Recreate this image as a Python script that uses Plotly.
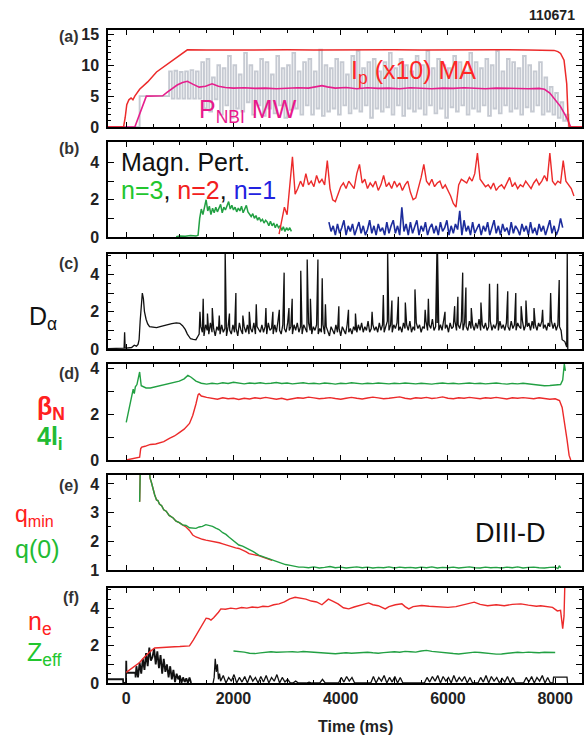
import plotly.graph_objects as go
from plotly.subplots import make_subplots

FONT = "Liberation Sans, Arial, sans-serif"
RED = "#ec2a2a"
GREEN = "#22a043"
BLUE = "#1c2c9c"
MAGENTA = "#e61e8c"
GRAY = "#c6cad2"
BLACK = "#111111"

# ---------------- (a) Ip (x10) MA, P_NBI ----------------
ip_t = [-340, -50, -20, 10, 50, 90, 125, 160, 250, 400, 565, 750, 935, 1040, 1140,
        1500, 2000, 2500, 3000, 3500, 4000, 4500, 5000, 5500, 6000, 6500, 7000, 7500,
        7980, 8050, 8100, 8165, 8215, 8240, 8260, 8500]
ip_v = [0, 0, 1.5, 3.6, 4.4, 4.7, 4.4, 5.0, 6.1, 7.3, 8.9, 10.1, 11.3, 12.0, 12.5,
        12.45, 12.5, 12.45, 12.5, 12.45, 12.5, 12.45, 12.5, 12.45, 12.5, 12.45, 12.5, 12.45,
        12.4, 12.2, 11.9, 10.8, 7.0, 1.7, 0, 0]

pnbi_t = [-340, 160, 375, 680, 760, 850, 950, 1050, 1140, 1250, 1360, 1480, 1600, 1720,
          1850, 2000, 2200, 2400, 2600, 2800, 3000, 3200, 3400, 3550, 3650, 3750, 3900,
          4100, 4300, 4500, 4700, 4900, 5100, 5300, 5500, 5700, 5900, 6100, 6300, 6500,
          6700, 6900, 7100, 7300, 7500, 7700, 7800, 7900, 7980, 8100, 8170, 8220, 8290, 8500]
pnbi_v = [0, 0, 5.0, 5.05, 5.6, 6.2, 6.8, 7.2, 7.4, 6.9, 6.45, 6.6, 7.0, 6.6,
          6.4, 6.3, 6.35, 6.25, 6.3, 6.2, 6.3, 6.35, 6.3, 6.5, 6.7, 6.5, 6.3,
          6.4, 6.2, 6.35, 6.25, 6.3, 6.2, 6.35, 6.3, 6.2, 6.3, 6.25, 6.35, 6.3,
          6.2, 6.3, 6.25, 6.3, 6.2, 6.25, 6.1, 5.5, 4.6, 3.3, 2.2, 1.4, 0, 0]

nbi_early_t = [-340, 240, 250, 780]
nbi_early_v = [0, 0, 5.0, 5.0]
nbi_mod_t0 = 800
nbi_mod_dt = 50
nbi_mod_v = [
    9.0, 4.6, 9.1, 4.6, 8.9, 4.6, 9.0, 4.6, 9.2, 4.6,
    9.0, 4.6, 10.5, 3.0, 11.0, 2.5, 8.0, 4.5, 10.0, 2.0,
    9.5, 3.5, 11.5, 1.5, 10.0, 3.0, 8.5, 2.5, 12.0, 4.0,
    10.0, 2.0, 9.0, 3.5, 11.0, 1.8, 10.5, 3.0, 8.5, 2.2,
    11.5, 3.5, 9.5, 1.5, 10.0, 2.8, 12.0, 3.0, 9.0, 2.0,
    10.5, 3.5, 11.0, 2.0, 9.0, 3.0, 12.5, 1.8, 10.0, 2.5,
    9.5, 3.0, 11.0, 2.0, 10.5, 3.5, 8.5, 2.2, 11.5, 3.0,
    12.3, 2.5, 9.5, 3.5, 10.5, 1.5, 11.0, 3.0, 9.0, 2.5,
    10.5, 3.2, 12.0, 2.0, 9.5, 3.5, 11.0, 1.8, 10.0, 3.0,
    9.0, 2.5, 11.5, 3.0, 10.0, 2.0, 12.3, 3.5, 9.5, 2.2,
    11.0, 3.0, 10.0, 1.5, 9.5, 3.2, 11.5, 2.5, 10.5, 3.5,
    9.0, 2.0, 12.0, 3.0, 10.5, 2.5, 9.5, 3.5, 11.0, 1.8,
    10.0, 3.0, 12.3, 2.2, 9.0, 3.5, 11.0, 2.5, 10.5, 3.0,
    9.5, 2.0, 11.5, 3.2, 10.0, 2.5, 9.0, 3.5, 10.5, 2.0,
    8.0, 2.5, 6.5, 2.0, 5.5, 1.5, 4.0, 1.0, 2.0, 0.0,
]

# ---------------- (b) magnetic perturbations ----------------
n3_early_t = [930, 1000, 1100, 1200, 1300, 1340]
n3_early_v = [0.02, 0.05, 0.04, 0.08, 0.05, 0.1]
n3_t0 = 1370
n3_dt = 30
n3_v = [1.0, 1.5, 1.2, 1.7, 2.0, 1.4, 1.65, 1.2, 1.55, 1.3,
        1.6, 1.35, 1.55, 1.75, 1.3, 1.6, 1.45, 1.7, 1.9, 1.5,
        1.7, 1.45, 1.6, 1.35, 1.55, 1.4, 1.65, 1.3, 1.5, 1.7,
        1.35, 1.25, 1.1, 1.25, 1.0, 1.15, 0.9, 1.05, 0.85, 0.95,
        0.75, 0.9, 0.8, 0.6, 0.85, 0.6, 0.75, 0.5, 0.7, 0.5,
        0.6, 0.35, 0.55, 0.3, 0.5, 0.35, 0.5, 0.3]

n2_t0 = 2850
n2_dt = 50
n2_v = [0.15, 0.9, 1.6, 1.2, 2.9, 4.3, 2.3, 2.6, 3.0, 2.7,
        3.4, 2.8, 3.0, 2.7, 3.3, 2.9, 3.1, 2.8, 4.1, 2.6,
        2.0, 1.9, 2.3, 2.7, 2.9, 2.6, 3.0, 2.8, 2.6, 3.4,
        3.9, 2.9, 3.1, 2.6, 2.9, 2.7, 3.0, 2.5, 2.8, 3.3,
        2.7, 2.9, 2.6, 3.0, 2.7, 2.9, 2.5, 2.8, 3.0, 2.4,
        2.0, 2.1, 2.6, 3.2, 3.9, 3.0, 2.8, 3.1, 2.7, 2.9,
        3.0, 2.6, 2.8, 2.5, 2.2, 1.8, 1.6, 2.8, 3.1, 3.0,
        2.9, 3.2, 3.0, 3.4, 4.5, 3.1, 2.9, 2.7, 2.8, 2.6,
        2.9, 2.5, 2.7, 2.8, 2.6, 2.9, 3.2, 2.7, 2.9, 2.6,
        2.8, 2.7, 3.0, 2.8, 2.6, 2.9, 3.1, 2.8, 3.0, 3.3,
        3.0, 4.5, 3.0, 2.8, 3.0, 2.9, 4.1, 3.0, 2.8, 2.6,
        2.2]

n1_t0 = 3780
n1_dt = 40
n1_v = [0.8, 0.3, 0.6, 0.1, 0.7, 0.2, 0.5, 0.9, 0.1, 0.6,
        0.3, 0.7, 0.1, 0.5, 0.8, 0.2, 0.6, 0.1, 0.4, 0.9,
        0.2, 0.6, 0.1, 0.7, 0.3, 0.5, 0.1, 0.8, 0.2, 0.6,
        0.9, 0.2, 0.6, 0.1, 1.6, 0.3, 0.7, 0.1, 0.8, 0.2,
        0.5, 0.9, 0.1, 0.6, 0.3, 0.8, 0.1, 0.5, 0.7, 0.2,
        0.6, 0.1, 0.8, 0.3, 0.5, 0.9, 0.1, 0.6, 0.2, 0.7,
        0.4, 1.4, 0.1, 0.9, 0.3, 0.6, 0.1, 0.8, 0.2, 0.5,
        0.7, 0.1, 0.6, 0.3, 0.8, 0.1, 0.5, 0.9, 0.2, 0.6,
        0.1, 0.7, 0.3, 0.5, 0.1, 0.8, 0.2, 0.6, 0.4, 0.1,
        0.7, 0.3, 0.6, 0.1, 0.8, 0.2, 0.5, 0.1, 0.7, 0.3,
        0.6, 0.1, 0.5, 0.9, 0.2, 0.6, 0.1, 0.4, 1.0, 0.5]

# ---------------- (c) D-alpha ----------------
da_early_t = [-340, -60, -40, -30, -20, 0, 100, 150, 190, 220, 240, 260, 280, 300,
              320, 340, 370, 400, 435, 500, 565, 650, 750, 850, 935, 1000, 1050,
              1100, 1140, 1200, 1250, 1300, 1340]
da_early_v = [0.02, 0.02, 0.05, 0.9, 0.05, 0.05, 0.08, 0.2, 0.15, 0.25, 0.5, 1.5, 2.6, 3.0,
              2.7, 2.0, 1.6, 1.35, 1.2, 1.18, 1.15, 1.22, 1.3, 1.36, 1.4, 1.38, 1.25,
              1.05, 0.8, 0.55, 0.52, 0.5, 0.7]
da_base_t0 = 1360
da_base_dt = 30
da_base_v = [0.8, 1.2, 0.9, 0.7, 1.3, 1.0, 0.8, 1.4, 0.9, 1.1,
             0.7, 1.2, 1.0, 0.8, 1.3, 0.9, 1.1, 0.7, 1.2, 1.0,
             0.8, 1.3, 0.9, 1.1, 0.7, 1.4, 1.0, 0.8, 1.2, 0.9,
             1.3, 0.8, 1.1, 0.9, 1.4, 0.8, 1.2, 1.0, 0.9, 1.3,
             0.9, 1.2, 0.8, 1.4, 1.0, 1.1, 0.8, 1.3, 0.9, 1.5,
             1.0, 0.8, 1.3, 1.1, 0.9, 1.4, 1.0, 1.2, 0.8, 1.3,
             1.0, 1.4, 0.9, 1.2, 0.8, 1.3, 1.1, 0.9, 1.4, 1.0,
             0.8, 1.2, 1.0, 1.3, 0.8, 1.1, 0.9, 1.3, 0.8, 1.2,
             0.9, 0.7, 1.2, 1.0, 0.8, 1.3, 0.9, 1.1, 0.7, 1.2,
             1.0, 0.8, 1.3, 0.9, 1.1, 0.8, 1.2, 1.0, 0.9, 1.3,
             1.0, 1.4, 0.9, 1.2, 1.0, 1.5, 0.9, 1.1, 1.3, 1.0,
             1.2, 0.9, 1.4, 1.0, 1.3, 0.9, 1.2, 1.5, 1.0, 1.3,
             0.9, 1.3, 1.1, 1.4, 1.0, 1.2, 0.9, 1.4, 1.1, 1.3,
             1.0, 1.5, 0.9, 1.2, 1.0, 1.4, 1.1, 1.3, 0.9, 1.2,
             1.1, 1.5, 1.0, 1.3, 1.1, 1.6, 1.0, 1.2, 1.4, 1.0,
             1.3, 1.0, 1.5, 1.1, 1.3, 0.9, 1.4, 1.1, 1.2, 1.5,
             1.0, 1.3, 1.1, 1.5, 1.0, 1.4, 1.2, 1.0, 1.5, 1.1,
             1.3, 1.0, 1.4, 1.1, 1.6, 1.0, 1.3, 1.1, 1.4, 1.0,
             1.2, 1.5, 1.0, 1.3, 1.1, 1.4, 1.0, 1.5, 1.1, 1.3,
             1.0, 1.4, 1.2, 1.0, 1.5, 1.1, 1.3, 1.0, 1.4, 1.2,
             1.1, 1.5, 1.0, 1.3, 1.2, 1.4, 1.0, 1.5, 1.1, 1.3,
             1.0, 1.4, 1.2, 1.5, 1.1, 1.3, 1.0, 1.4, 1.2, 1.5,
             1.1, 1.4, 1.0, 1.3, 1.2]
da_spike_t = [1375, 1435, 1515, 1605, 1735, 1845, 1925, 2045, 2175, 2295, 2425, 2605,
              2735, 2855, 2945, 3035, 3095, 3255, 3375, 3435, 3575, 3655, 3715, 3965,
              4145, 4275, 4585, 4795, 4875, 4955, 5075, 5205, 5385, 5575, 5635, 5795,
              5805, 5945, 6125, 6185, 6275, 6335, 6435, 6615, 6775, 6925, 7115, 7265,
              7365, 7455, 7605, 7765, 7915, 8075]
da_spike_v = [2.0, 2.7, 1.9, 2.2, 1.8, 5.3, 1.9, 3.0, 1.8, 2.0, 2.4, 2.2,
              2.0, 2.1, 4.1, 2.2, 2.7, 4.2, 4.8, 2.7, 4.8, 3.8, 2.4, 2.3,
              2.1, 1.9, 2.0, 2.9, 5.3, 2.6, 2.8, 2.5, 3.2, 2.1, 2.7, 5.3,
              5.3, 2.0, 2.3, 2.8, 4.1, 3.3, 2.2, 2.5, 3.5, 3.5, 3.1, 3.0,
              2.3, 2.6, 2.2, 2.1, 3.0, 3.7]
da_tail_t = [8110, 8130, 8180, 8215, 8225, 8235]
da_tail_v = [1.0, 0.5, 0.4, 0.1, 5.3, 0.0]

# ---------------- (d) beta_N, 4 l_i ----------------
bn_early_t = [0, 100, 200, 250, 270, 290, 350, 450, 550, 620, 700, 805, 900, 990,
              1080, 1180, 1240, 1300, 1340, 1360]
bn_early_v = [0.0, 0.05, 0.1, 0.12, 0.5, 0.56, 0.6, 0.68, 0.7, 0.75, 0.8, 0.95, 1.05, 1.2,
              1.35, 1.6, 1.95, 2.45, 2.85, 2.9]
bn_t0 = 1400
bn_dt = 100
bn_v = [2.8, 2.74, 2.7, 2.66, 2.72, 2.68, 2.7, 2.65, 2.7, 2.67,
        2.72, 2.69, 2.74, 2.7, 2.66, 2.7, 2.64, 2.68, 2.72, 2.7,
        2.75, 2.72, 2.68, 2.7, 2.73, 2.69, 2.66, 2.7, 2.74, 2.7,
        2.67, 2.71, 2.75, 2.72, 2.68, 2.7, 2.73, 2.76, 2.7, 2.67,
        2.72, 2.7, 2.74, 2.69, 2.72, 2.76, 2.7, 2.68, 2.72, 2.7,
        2.74, 2.71, 2.68, 2.72, 2.7, 2.74, 2.7, 2.67, 2.72, 2.7,
        2.73, 2.7, 2.68, 2.72, 2.7, 2.66]
bn_tail_t = [8000, 8080, 8130, 8180, 8220, 8260, 8290]
bn_tail_v = [2.68, 2.6, 2.3, 1.6, 0.9, 0.2, 0.0]

li_early_t = [0, 60, 110, 130, 150, 170, 200, 250, 280, 320, 370, 450, 500, 560, 620,
              700, 805, 900, 990, 1080, 1150, 1210, 1300, 1400]
li_early_v = [1.65, 2.3, 2.9, 3.1, 2.9, 3.2, 3.3, 3.85, 3.25, 3.2, 3.15, 3.15, 3.18, 3.22, 3.25,
              3.3, 3.35, 3.4, 3.45, 3.55, 3.7, 3.62, 3.45, 3.36]
li_t0 = 1500
li_dt = 100
li_v = [3.32, 3.36, 3.33, 3.38, 3.35, 3.4, 3.36, 3.33, 3.37, 3.35,
        3.38, 3.34, 3.36, 3.39, 3.35, 3.37, 3.33, 3.36, 3.38, 3.34,
        3.36, 3.33, 3.37, 3.35, 3.32, 3.36, 3.34, 3.38, 3.35, 3.33,
        3.36, 3.34, 3.37, 3.35, 3.33, 3.36, 3.34, 3.37, 3.35, 3.33,
        3.36, 3.34, 3.32, 3.35, 3.37, 3.34, 3.36, 3.33, 3.35, 3.37,
        3.34, 3.36, 3.33, 3.35, 3.37, 3.34, 3.32, 3.35, 3.33, 3.36,
        3.33, 3.3, 3.27, 3.25, 3.26, 3.28, 3.3]
li_tail_t = [8140, 8170, 8190]
li_tail_v = [3.5, 4.2, 3.9]

# ---------------- (e) q_min, q(0) ----------------
q0_t = [250, 262, 430, 445, 470, 500, 530, 565, 590, 620, 660, 700, 745, 800, 870, 930,
        990, 1050, 1115, 1180, 1240, 1300, 1360, 1420, 1485, 1545, 1610, 1670, 1730,
        1800, 1860, 1920, 1980, 2040, 2100, 2170, 2230, 2300, 2370, 2470, 2560, 2640,
        2720, 2800, 2880, 2970, 3060, 3140, 3220]
q0_v = [3.38, 4.5, 4.5, 4.2, 4.05, 3.8, 3.62, 3.44, 3.42, 3.3, 3.24, 3.1, 3.05, 2.9, 2.82, 2.7,
        2.65, 2.57, 2.55, 2.47, 2.46, 2.45, 2.5, 2.52, 2.58, 2.56, 2.52, 2.46, 2.41,
        2.3, 2.24, 2.14, 2.06, 1.98, 1.87, 1.83, 1.78, 1.7, 1.64, 1.52, 1.46, 1.39,
        1.36, 1.28, 1.25, 1.19, 1.16, 1.12, 1.1]
q0_late_t0 = 3300
q0_late_dt = 100
q0_late_v = [1.1, 1.08, 1.11, 1.07, 1.09, 1.12, 1.08, 1.1, 1.07, 1.09,
             1.11, 1.08, 1.1, 1.07, 1.09, 1.08, 1.11, 1.07, 1.1, 1.08,
             1.09, 1.07, 1.1, 1.08, 1.11, 1.07, 1.09, 1.08, 1.1, 1.07,
             1.09, 1.11, 1.08, 1.07, 1.1, 1.08, 1.09, 1.07, 1.1, 1.08,
             1.11, 1.07, 1.09, 1.1, 1.08, 1.07, 1.09, 1.1]
q0_tail_t = [8050, 8080, 8100]
q0_tail_v = [1.05, 1.15, 1.07]

qmin_t = [250, 262, 430, 445, 470, 500, 530, 565, 590, 620, 660, 700, 745, 800, 870, 930,
          990, 1050, 1115, 1180, 1240, 1300, 1360, 1420, 1485, 1550, 1610, 1670, 1735,
          1800, 1860, 1920, 1980, 2040, 2100, 2170, 2230, 2290, 2370, 2470, 2560, 2640, 2720]
qmin_v = [3.38, 4.5, 4.5, 4.2, 4.05, 3.8, 3.62, 3.44, 3.42, 3.3, 3.24, 3.1, 3.05, 2.9, 2.82, 2.7,
          2.65, 2.57, 2.5, 2.38, 2.22, 2.15, 2.1, 2.07, 2.04, 2.02, 1.99, 1.97, 1.95,
          1.91, 1.87, 1.83, 1.79, 1.77, 1.75, 1.7, 1.64, 1.57, 1.55, 1.5, 1.44, 1.38, 1.34]

# ---------------- (f) n_e, Z_eff, black trace ----------------
ne_t = [0, 60, 125, 190, 250, 310, 375, 450, 530, 600, 700, 800, 900, 1000, 1100, 1180,
        1250, 1310, 1360, 1420, 1490, 1540, 1580, 1630, 1675, 1720, 1765, 1850, 1950,
        2050, 2150, 2250, 2350, 2450, 2550, 2650, 2750, 2850, 2950, 3050, 3150, 3250,
        3350, 3450, 3550, 3650, 3720, 3770, 3850, 3950, 4050, 4150, 4250, 4350, 4450,
        4520, 4600, 4700, 4830, 4900, 5020, 5140, 5200, 5270, 5350, 5510, 5650, 5800,
        6000, 6150, 6300, 6400, 6490, 6600, 6740, 6900, 7050, 7200, 7360, 7500, 7650,
        7730, 7850, 7950, 8040, 8100, 8140, 8165, 8180]
ne_v = [0.57, 0.7, 0.87, 1.0, 1.1, 1.3, 1.49, 1.7, 1.88, 1.9, 1.92, 1.93, 1.95, 1.96, 1.97, 1.99,
        2.3, 2.6, 2.83, 3.15, 3.48, 3.45, 3.38, 3.5, 3.63, 3.8, 3.98, 3.96, 4.02,
        3.98, 4.05, 4.02, 4.08, 4.05, 4.12, 4.1, 4.2, 4.25, 4.35, 4.52, 4.6, 4.55,
        4.5, 4.4, 4.35, 4.2, 4.4, 4.5, 4.4, 4.25, 4.04, 3.98, 4.08, 4.15, 4.25,
        4.3, 4.2, 4.15, 3.98, 4.1, 4.2, 4.25, 4.1, 3.98, 4.1, 4.16, 4.12, 4.08,
        4.06, 4.1, 4.2, 4.28, 4.34, 4.22, 4.15, 4.2, 4.15, 4.22, 4.25, 4.18, 4.12,
        4.15, 4.1, 4.06, 3.87, 3.9, 2.92, 3.6, 5.3]

zeff_t0 = 2000
zeff_dt = 100
zeff_v = [1.72, 1.7, 1.66, 1.6, 1.58, 1.62, 1.66, 1.68, 1.65, 1.64,
          1.67, 1.68, 1.66, 1.69, 1.67, 1.64, 1.66, 1.62, 1.58, 1.57,
          1.6, 1.62, 1.6, 1.63, 1.66, 1.65, 1.62, 1.6, 1.63, 1.66,
          1.68, 1.65, 1.7, 1.68, 1.66, 1.72, 1.75, 1.7, 1.66, 1.62,
          1.6, 1.58, 1.56, 1.6, 1.63, 1.66, 1.64, 1.6, 1.58, 1.55,
          1.56, 1.6, 1.62, 1.65, 1.63, 1.66, 1.64, 1.62, 1.65, 1.63,
          1.64]

bk_early_t = [-340, -60, -55, -5, 0, 5, 170, 175]
bk_early_v = [0.2, 0.2, 0.0, 0.0, 1.2, 0.55, 0.55, 0.3]
bk_hump_t0 = 190
bk_hump_dt = 30
bk_hump_v = [0.9, 0.3, 1.1, 0.5, 1.3, 0.7, 1.6, 0.9, 1.9, 1.2,
             1.4, 1.85, 1.0, 1.7, 0.8, 1.5, 0.5, 1.3, 0.6, 1.0,
             0.3, 0.9, 0.2, 0.7, 0.05, 0.5, 0.2, 0.4, 0.0, 0.3,
             0.05, 0.25, 0.0, 0.3, 0.0]
bk_mid_t = [1620, 1640, 1660, 1680, 1700, 1720, 1740]
bk_mid_v = [0.0, 0.3, 1.3, 0.6, 1.0, 0.2, 0.5]
bk_late_t0 = 1760
bk_late_dt = 50
bk_late_v = [0.1, 0.4, 0.0, 0.3, 0.1, 0.45, 0.0, 0.3, 0.05, 0.35,
             0.0, 0.4, 0.1, 0.3, 0.0, 0.35, 0.05, 0.4, 0.0, 0.3,
             0.1, 0.45, 0.0, 0.3, 0.05, 0.2, 0.0, 0.0, 0.1, 0.0,
             0.0, 0.0, 0.0, 0.05, 0.0, 0.0, 0.0, 0.0, 0.2, 0.0,
             0.0, 0.0, 0.0, 0.0, 0.0, 0.3, 0.05, 0.35, 0.1, 0.3,
             0.0, 0.0, 0.0, 0.0, 0.0, 0.0, 0.0, 0.35, 0.0, 0.3,
             0.1, 0.4, 0.0, 0.3, 0.05, 0.35, 0.0, 0.3, 0.0, 0.0,
             0.0, 0.0, 0.0, 0.0, 0.0, 0.0, 0.0, 0.3, 0.05, 0.35,
             0.1, 0.4, 0.0, 0.35, 0.1, 0.3, 0.0, 0.4, 0.05, 0.3,
             0.1, 0.35, 0.0, 0.3, 0.0, 0.0, 0.0, 0.3, 0.05, 0.4,
             0.0, 0.35, 0.1, 0.3, 0.0, 0.25, 0.05, 0.35, 0.0, 0.3,
             0.0, 0.0, 0.0, 0.0, 0.3, 0.05, 0.35, 0.0, 0.3, 0.1,
             0.4, 0.0, 0.3, 0.0]
bk_tail_t = [7960, 7970, 8220, 8230]
bk_tail_v = [0.0, 0.32, 0.32, 0.0]

# ---------------- axis tick labels ----------------
x_tickvals = [0, 1000, 2000, 3000, 4000, 5000, 6000, 7000, 8000]
x_ticktext = ["0", "", "2000", "", "4000", "", "6000", "", "8000"]
ya_tickvals = [0, 5, 10, 15]
ya_ticktext = ["0", "5", "10", "15"]
y04_tickvals = [0, 1, 2, 3, 4]
y04_ticktext = ["0", "", "2", "", "4"]
ye_tickvals = [1, 2, 3, 4]
ye_ticktext = ["1", "2", "3", "4"]


def seq(t0, dt, vals):
    return [t0 + dt * i for i in range(len(vals))]


fig = make_subplots(rows=6, cols=1, shared_xaxes=False)


def line(x, y, color, width=1.3, row=1, shape="linear"):
    fig.add_trace(go.Scatter(x=x, y=y, mode="lines", line=dict(color=color, width=width, shape=shape),
                             showlegend=False, hoverinfo="skip"), row=row, col=1)


# (a)
line(nbi_early_t + seq(nbi_mod_t0, nbi_mod_dt, nbi_mod_v), nbi_early_v + nbi_mod_v, GRAY, 1.9, 1, "hv")
line(pnbi_t, pnbi_v, MAGENTA, 1.6, 1)
line(ip_t, ip_v, RED, 1.5, 1)
# (b)
line(n3_early_t + seq(n3_t0, n3_dt, n3_v), n3_early_v + n3_v, GREEN, 1.5, 2)
line(seq(n2_t0, n2_dt, n2_v), n2_v, RED, 1.4, 2)
line(seq(n1_t0, n1_dt, n1_v), n1_v, BLUE, 1.6, 2)
# (c)
da_pairs = sorted(zip(seq(da_base_t0, da_base_dt, da_base_v) + da_spike_t,
                      da_base_v + da_spike_v))
line(da_early_t + [p[0] for p in da_pairs] + da_tail_t,
     da_early_v + [p[1] for p in da_pairs] + da_tail_v, BLACK, 1.3, 3)
# (d)
line(bn_early_t + seq(bn_t0, bn_dt, bn_v) + bn_tail_t, bn_early_v + bn_v + bn_tail_v, RED, 1.4, 4)
line(li_early_t + seq(li_t0, li_dt, li_v) + li_tail_t, li_early_v + li_v + li_tail_v, GREEN, 1.4, 4)
# (e)
line(qmin_t, qmin_v, RED, 1.4, 5)
line(q0_t + seq(q0_late_t0, q0_late_dt, q0_late_v) + q0_tail_t, q0_v + q0_late_v + q0_tail_v, GREEN, 1.4, 5)
# (f)
line(bk_early_t + seq(bk_hump_t0, bk_hump_dt, bk_hump_v), bk_early_v + bk_hump_v, BLACK, 1.8, 6)
line(bk_mid_t + seq(bk_late_t0, bk_late_dt, bk_late_v) + bk_tail_t,
     bk_mid_v + bk_late_v + bk_tail_v, BLACK, 1.3, 6)
line(seq(zeff_t0, zeff_dt, zeff_v), zeff_v, GREEN, 1.4, 6)
line(ne_t, ne_v, RED, 1.4, 6)

# ---------------- layout ----------------
L, R, T, B = 108, 3, 30, 61
W, H = 587, 744
PW, PH = W - L - R, H - T - B


def py(p):
    return (H - B - p) / PH


def px(p):
    return (p - L) / PW


panels = [  # (top px, bottom px, range, tickvals, ticktext, minor dtick)
    (30, 127, [0, 15.7], ya_tickvals, ya_ticktext, 1),
    (142, 237, [0, 5.1], y04_tickvals, y04_ticktext, None),
    (254, 349, [0, 5.1], y04_tickvals, y04_ticktext, 0.5),
    (364, 460, [0, 4.2], y04_tickvals, y04_ticktext, None),
    (475, 570, [1.0, 4.31], ye_tickvals, ye_ticktext, 0.5),
    (588, 683, [0, 5.1], y04_tickvals, y04_ticktext, 0.5),
]

tickfont = dict(family=FONT, size=16, color="#222222", weight="bold")
for i, (top, bot, rng, tv, tt, mdt) in enumerate(panels, start=1):
    ysuf = "" if i == 1 else str(i)
    yax = dict(domain=[py(bot), py(top)], range=rng, showline=True, linecolor="black", linewidth=1.5,
               mirror="allticks", ticks="inside", ticklen=6, tickwidth=1.2, tickcolor="black",
               tickmode="array", tickvals=tv, ticktext=tt, showgrid=False, zeroline=False,
               tickfont=tickfont, ticklabelstandoff=4)
    if mdt:
        yax["minor"] = dict(tickmode="linear", tick0=0, dtick=mdt, ticks="inside", ticklen=3,
                            tickcolor="black", showgrid=False)
    xax = dict(range=[-340, 8500], showline=True, linecolor="black", linewidth=1.5, mirror="allticks",
               ticks="inside", ticklen=5, tickwidth=1.2, tickcolor="black", tickmode="array",
               tickvals=x_tickvals, ticktext=x_ticktext, showgrid=False, zeroline=False,
               showticklabels=(i == 6), tickfont=tickfont,
               minor=dict(tickmode="linear", tick0=0, dtick=500, ticks="inside", ticklen=3,
                          tickcolor="black", showgrid=False))
    fig.update_layout(**{"yaxis" + ysuf: yax, "xaxis" + ysuf: xax})

ann = []


def add_text(text, x_px, y_px, size, color, xanchor="left", bold=False):
    ann.append(dict(text=text, x=px(x_px), y=py(y_px), xref="paper", yref="paper",
                    xanchor=xanchor, yanchor="middle", showarrow=False,
                    font=dict(family=FONT, size=size, color=color, weight="bold" if bold else "normal")))


add_text("110671", 579, 15, 14, "#222222", "right", True)
for lab, ypx in [("(a)", 36), ("(b)", 148), ("(c)", 263), ("(d)", 373), ("(e)", 485), ("(f)", 597)]:
    add_text(lab, 81, ypx, 16, "#333333", "right", True)

add_text("I<sub>p</sub> (x10) MA", 350, 72, 25, "#ff2626")
add_text("P<sub>NBI</sub> MW", 197, 111, 25, "#e8198c")
add_text("Magn. Pert.", 119, 162, 25, "#111111")
add_text("<span style='color:#22c62e'>n=3</span>, <span style='color:#f22020'>n=2</span>, "
         "<span style='color:#2222e0'>n=1</span>", 119, 190, 25, "#111111")
add_text("D<sub>α</sub>", 27, 318, 25, "#111111")
add_text("<b>β<sub>N</sub></b>", 35, 408, 25, "#ff2020")
add_text("<b>4l<sub>i</sub></b>", 35, 438, 25, "#22bb33")
add_text("q<sub>min</sub>", 13, 515, 23, "#ff2020")
add_text("q(0)", 13, 549, 25, "#22bb33")
add_text("DIII-D", 475, 533, 27, "#111111")
add_text("n<sub>e</sub>", 26, 623, 25, "#ff2020")
add_text("Z<sub>eff</sub>", 25, 654, 25, "#22c62e")
add_text("Time (ms)", 357, 727, 16, "#222222", "center", True)

fig.update_layout(width=W, height=H, margin=dict(l=L, r=R, t=T, b=B, pad=0),
                  paper_bgcolor="white", plot_bgcolor="white", annotations=ann,
                  font=dict(family=FONT), showlegend=False)

fig.write_html("out.html", config={"displayModeBar": False},
               post_script="document.body.style.margin='0';document.body.style.overflow='hidden';")
